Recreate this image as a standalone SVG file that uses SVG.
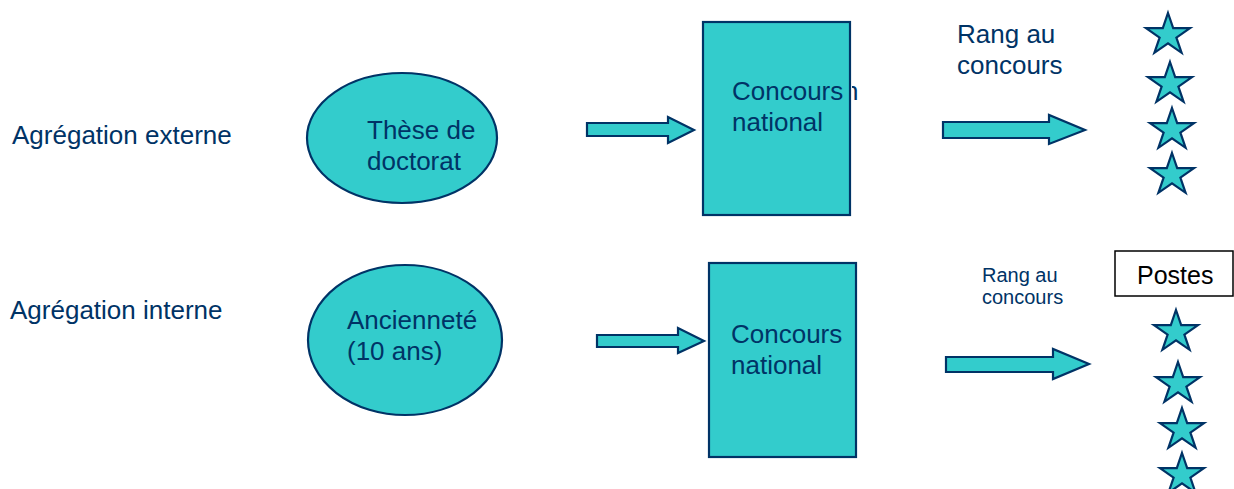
<svg xmlns="http://www.w3.org/2000/svg" width="1234" height="489" viewBox="0 0 1234 489">
<style>
.shape{fill:#33CCCC;stroke:#003366;stroke-width:2.2}
.t{font-family:"Liberation Sans",Arial,sans-serif;fill:#003366;font-size:26px}
.lbl{font-family:"Liberation Sans",Arial,sans-serif;fill:#003366;font-size:26px}
.small{font-family:"Liberation Sans",Arial,sans-serif;fill:#003366;font-size:20px}
</style>
<defs>
<polygon id="star" points="0,-22 5.19,-6.8 21.97,-6.8 8.39,2.6 13.58,17.8 0,8.4 -13.58,17.8 -8.39,2.6 -21.97,-6.8 -5.19,-6.8" class="shape"/>
<clipPath id="nclip"><rect x="852" y="70" width="6" height="40"/></clipPath>
</defs>
<rect width="1234" height="489" fill="#ffffff"/>

<g id="label-externe"><text class="lbl" x="12" y="144">Agrégation externe</text></g>
<g id="label-interne"><text class="lbl" x="10" y="319">Agrégation interne</text></g>

<g id="these">
<ellipse class="shape" cx="402" cy="138" rx="95" ry="65"/>
<text class="t" x="367" y="139" font-size="25">Thèse de</text>
<text class="t" x="367" y="170" font-size="25">doctorat</text>
</g>

<g id="anciennete">
<ellipse class="shape" cx="405" cy="340" rx="97" ry="75"/>
<text class="t" x="347" y="329">Ancienneté</text>
<text class="t" x="347" y="360">(10 ans)</text>
</g>

<g id="concours1">
<rect class="shape" x="703" y="22" width="147" height="193"/>
<text class="t" x="732" y="100">Concours</text>
<text class="t" x="732" y="131">national</text>
<g clip-path="url(#nclip)"><text class="t" x="844" y="100">n</text></g>
</g>

<g id="concours2">
<rect class="shape" x="709" y="263" width="147" height="194"/>
<text class="t" x="731" y="343">Concours</text>
<text class="t" x="731" y="374">national</text>
</g>

<g id="rang1">
<text class="t" x="957" y="43">Rang au</text>
<text class="t" x="957" y="74">concours</text>
</g>

<g id="rang2">
<text class="small" x="982" y="282">Rang au</text>
<text class="small" x="982" y="304">concours</text>
</g>

<g id="postes">
<rect x="1115" y="251" width="118" height="45" fill="#ffffff" stroke="#000000" stroke-width="1.5"/>
<text x="1137" y="284" font-family="Liberation Sans, Arial, sans-serif" font-size="25" fill="#000000">Postes</text>
</g>

<g id="stars-top">
<use href="#star" x="1168" y="35"/>
<use href="#star" x="1170" y="84"/>
<use href="#star" x="1172" y="130"/>
<use href="#star" x="1172" y="175"/>
</g>

<g id="stars-bottom">
<use href="#star" x="1176" y="332"/>
<use href="#star" x="1178" y="384"/>
<use href="#star" x="1182" y="430"/>
<use href="#star" x="1182" y="475"/>
</g>

<g id="connectors">
<polygon class="shape" points="587,123 668,123 668,117 694,130 668,143 668,136 587,136"/>
<polygon class="shape" points="943,122 1049,122 1049,115 1085,130 1049,144 1049,138 943,138"/>
<polygon class="shape" points="597,335 678,335 678,328 704,341 678,353 678,347 597,347"/>
<polygon class="shape" points="946,357 1053,357 1053,349 1089,364 1053,379 1053,372 946,372"/>
</g>
</svg>
